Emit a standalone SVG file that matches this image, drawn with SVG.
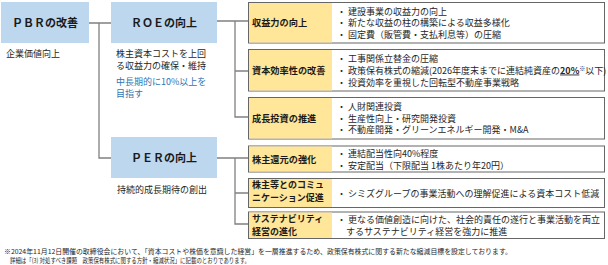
<svg xmlns="http://www.w3.org/2000/svg" width="608" height="265" viewBox="0 0 608 265">
<style>
text{font-family:"Noto Sans CJK JP","Noto Sans",sans-serif;fill:#262626}
.blue{fill:#bdd7ee}
.title{font-size:11px;font-weight:bold;text-anchor:middle;fill:#1a1a1a}
.sub{font-size:9px}
.hl{font-size:9px;fill:#2e75b6}
.row{fill:#fff;stroke:#666;stroke-width:1}
.lab{fill:#ffe699}
.lt{font-size:9.2px;font-weight:bold;fill:#1a1a1a}
.lt2{font-size:9px;font-weight:bold;fill:#1a1a1a}
.ct{font-size:9px}
.fn{font-size:6.8px}
.con{fill:none;stroke:#808080;stroke-width:1.3}
</style>
<g id="connectors">
<path class="con" d="M89 23H111M99 23V158H111"/>
<path class="con" d="M217 21H248M235 21V117H248M235 71H248"/>
<path class="con" d="M217 158H248M235 158V224H248M235 193H248"/>
</g>
<g id="pbr">
<rect class="blue" x="1" y="2" width="88" height="41"/>
<text class="title" x="45" y="26.5">ＰＢＲの改善</text>
<text class="sub" x="6" y="57">企業価値向上</text>
</g>
<g id="roe">
<rect class="blue" x="111" y="2" width="106" height="41"/>
<text class="title" x="164" y="26.5">ＲＯＥの向上</text>
<text class="sub" x="116" y="57">株主資本コストを上回</text>
<text class="sub" x="116" y="69">る収益力の確保・維持</text>
<text class="hl" x="116" y="84.5">中長期的に10%以上を</text>
<text class="hl" x="116" y="96.5">目指す</text>
</g>
<g id="per">
<rect class="blue" x="111" y="137" width="106" height="41"/>
<text class="title" x="164" y="162">ＰＥＲの向上</text>
<text class="sub" x="117" y="193">持続的成長期待の創出</text>
</g>
<g id="r1">
<rect class="row" x="248.5" y="2.5" width="356" height="40.5"/>
<rect class="lab" x="249" y="3" width="83" height="39.5"/>
<text class="lt" x="252" y="25.5">収益力の向上</text>
<text class="ct" x="337" y="14.5">・ 建設事業の収益力の向上</text>
<text class="ct" x="337" y="26">・ 新たな収益の柱の構築による収益多様化</text>
<text class="ct" x="337" y="37.5">・ 固定費（販管費・支払利息等）の圧縮</text>
</g>
<g id="r2">
<rect class="row" x="248.5" y="49.5" width="356" height="41.5"/>
<rect class="lab" x="249" y="50" width="83" height="40.5"/>
<text class="lt" x="252" y="74">資本効率性の改善</text>
<text class="ct" x="337" y="61.5">・ 工事関係立替金の圧縮</text>
<text class="ct" x="337" y="73.5">・ 政策保有株式の縮減(2026年度末までに連結純資産の<tspan text-decoration="underline" font-weight="bold">20%</tspan><tspan font-size="6" dy="-3">※</tspan><tspan dy="3">以下)</tspan></text>
<text class="ct" x="337" y="85.5">・ 投資効率を重視した回転型不動産事業戦略</text>
</g>
<g id="r3">
<rect class="row" x="248.5" y="97.5" width="356" height="41.5"/>
<rect class="lab" x="249" y="98" width="83" height="40.5"/>
<text class="lt" x="252" y="121.5">成長投資の推進</text>
<text class="ct" x="337" y="110">・ 人財関連投資</text>
<text class="ct" x="337" y="121.5">・ 生産性向上・研究開発投資</text>
<text class="ct" x="337" y="133">・ 不動産開発・グリーンエネルギー開発・M&amp;A</text>
</g>
<g id="r4">
<rect class="row" x="248.5" y="146" width="356" height="26"/>
<rect class="lab" x="249" y="146.5" width="83" height="25"/>
<text class="lt" x="252" y="162.5">株主還元の強化</text>
<text class="ct" x="337" y="157">・ 連結配当性向40%程度</text>
<text class="ct" x="337" y="168.5">・ 安定配当（下限配当 1株あたり年20円）</text>
</g>
<g id="r5">
<rect class="row" x="248.5" y="178.5" width="356" height="29"/>
<rect class="lab" x="249" y="179" width="83" height="28"/>
<text class="lt2" x="252" y="187.5">株主等とのコミュ</text>
<text class="lt2" x="252" y="200.5">ニケーション促進</text>
<text class="ct" x="337" y="196.5">・ シミズグループの事業活動への理解促進による資本コスト低減</text>
</g>
<g id="r6">
<rect class="row" x="248.5" y="212" width="356" height="26.5"/>
<rect class="lab" x="249" y="212.5" width="83" height="25.5"/>
<text class="lt2" x="252" y="221.5">サステナビリティ</text>
<text class="lt2" x="252" y="234.5">経営の進化</text>
<text class="ct" x="337" y="222.5">・ 更なる価値創造に向けた、社会的責任の遂行と事業活動を両立</text>
<text class="ct" x="346" y="234.5">するサステナビリティ経営を強力に推進</text>
</g>
<g id="footnote">
<text class="fn" x="4" y="254" textLength="508" lengthAdjust="spacingAndGlyphs">※2024年11月12日開催の取締役会において、「資本コストや株価を意識した経営」を一層推進するため、政策保有株式に関する新たな縮減目標を設定しております。</text>
<text class="fn" x="10" y="263" textLength="240" lengthAdjust="spacingAndGlyphs">詳細は「(3) 対処すべき課題　政策保有株式に関する方針・縮減状況」に記載のとおりであります。</text>
</g>
</svg>
